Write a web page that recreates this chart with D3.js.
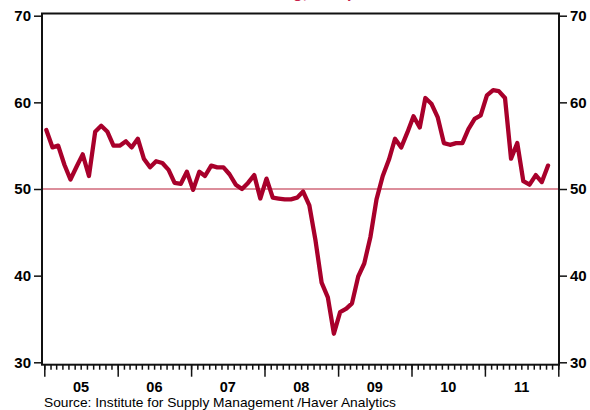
<!DOCTYPE html>
<html>
<head>
<meta charset="utf-8">
<script src="https://cdn.jsdelivr.net/npm/d3@7"></script>
<style>
  body { margin: 0; background: #fff; }
  svg { display: block; }
</style>
</head>
<body>
<svg id="chart"></svg>
<script>
const w = 590;
const h = 410;

// ISM composite index, monthly, Jan 2005 .. Nov 2011
const startYear = 2005;
const pmiValues = [
  56.8, 54.8, 55.0, 52.8, 51.1, 52.6, 54.0, 51.5, 56.6, 57.3, 56.6, 55.0,
  55.0, 55.5, 54.8, 55.8, 53.5, 52.5, 53.2, 53.0, 52.2, 50.7, 50.6, 52.0,
  49.9, 52.0, 51.5, 52.7, 52.5, 52.5, 51.7, 50.5, 50.0, 50.7, 51.6, 48.9,
  51.2, 49.0, 48.9, 48.8, 48.8, 49.0, 49.7, 48.1, 44.0, 39.2, 37.5, 33.3,
  35.8, 36.2, 36.8, 39.9, 41.4, 44.5, 48.8, 51.5, 53.4, 55.8, 54.8, 56.5,
  58.4, 57.1, 60.5, 59.8, 58.3, 55.3, 55.1, 55.3, 55.3, 56.9, 58.1, 58.5,
  60.8, 61.4, 61.3, 60.5, 53.5, 55.3, 50.9, 50.5, 51.6, 50.8, 52.7
];
const yTicks = [30, 40, 50, 60, 70];
const yearLabels = ["05", "06", "07", "08", "09", "10", "11"];
const refLevel = 50;
const titleText = "ISM Manufacturing, Composite Index";
const sourceText = "Source:  Institute for Supply Management /Haver Analytics";

const data = pmiValues.map((v, i) => ({
  date: new Date(startYear, i, 11),
  value: v
}));

const svg = d3.select("#chart")
  .attr("width", w)
  .attr("height", h)
  .attr("viewBox", [0, 0, w, h]);

const frame = { left: 42, right: 559, top: 13.5, bottom: 364.7 };

const x = d3.scaleTime()
  .domain([new Date(2005, 0, 1), new Date(2012, 0, 1)])
  .range([44.3, 558.3]);

const y = d3.scaleLinear()
  .domain([30, 70])
  .range([362.3, 15.7]);

const lineColor = "#a8002b";
const fontFam = "'Liberation Sans', Arial, sans-serif";

// title, cut off at the top edge (only descenders show in the original)
svg.append("text")
  .attr("x", 300)
  .attr("y", -2.5)
  .attr("text-anchor", "middle")
  .attr("font-family", fontFam)
  .attr("font-weight", "bold")
  .attr("font-size", 16)
  .attr("fill", "#c8204a")
  .text(titleText);

svg.append("defs").append("clipPath")
  .attr("id", "plot-clip")
  .append("rect")
  .attr("x", frame.left)
  .attr("y", frame.top)
  .attr("width", frame.right - frame.left)
  .attr("height", frame.bottom - frame.top);

// 50 reference line
svg.append("line")
  .attr("x1", frame.left)
  .attr("x2", frame.right)
  .attr("y1", y(refLevel))
  .attr("y2", y(refLevel))
  .attr("stroke", "#d0687a")
  .attr("stroke-width", 1.4);

const line = d3.line()
  .x(d => x(d.date))
  .y(d => y(d.value));

svg.append("path")
  .datum(data)
  .attr("clip-path", "url(#plot-clip)")
  .attr("d", line)
  .attr("fill", "none")
  .attr("stroke", lineColor)
  .attr("stroke-width", 4.3)
  .attr("stroke-linejoin", "round")
  .attr("stroke-linecap", "round");

// frame
svg.append("rect")
  .attr("x", frame.left)
  .attr("y", frame.top)
  .attr("width", frame.right - frame.left)
  .attr("height", frame.bottom - frame.top)
  .attr("fill", "none")
  .attr("stroke", "#111")
  .attr("stroke-width", 2);

function styleAxis(g) {
  g.select(".domain").remove();
  g.selectAll("line").attr("stroke", "#111").attr("stroke-width", 1.5);
  g.selectAll("text")
    .attr("font-family", fontFam)
    .attr("font-weight", "bold")
    .attr("font-size", 15)
    .attr("fill", "#000");
}

svg.append("g")
  .attr("transform", `translate(${frame.left},0)`)
  .call(d3.axisLeft(y).tickValues(yTicks).tickSize(8).tickPadding(3))
  .call(styleAxis);

svg.append("g")
  .attr("transform", `translate(${frame.right},0)`)
  .call(d3.axisRight(y).tickValues(yTicks).tickSize(8).tickPadding(3))
  .call(styleAxis);

// monthly minor ticks and yearly major ticks on the bottom
const months = d3.timeMonth.range(new Date(2005, 0, 1), new Date(2012, 0, 2));
svg.append("g")
  .attr("transform", `translate(0,${frame.bottom})`)
  .call(d3.axisBottom(x).tickValues(months).tickSize(5).tickFormat(""))
  .call(styleAxis);

const years = d3.timeYear.range(new Date(2005, 0, 1), new Date(2012, 0, 2));
svg.append("g")
  .attr("transform", `translate(0,${frame.bottom})`)
  .call(d3.axisBottom(x).tickValues(years).tickSize(12).tickFormat(""))
  .call(styleAxis);

// year labels centred between year ticks
svg.append("g")
  .selectAll("text")
  .data(yearLabels)
  .enter()
  .append("text")
  .attr("x", (d, i) => (x(new Date(startYear + i, 0, 1)) + x(new Date(startYear + i + 1, 0, 1))) / 2)
  .attr("y", 392)
  .attr("text-anchor", "middle")
  .attr("font-family", fontFam)
  .attr("font-weight", "bold")
  .attr("font-size", 14.5)
  .text(d => d);

svg.append("text")
  .attr("x", 44)
  .attr("y", 406.5)
  .attr("font-family", fontFam)
  .attr("font-size", 13.5)
  .attr("textLength", 352)
  .attr("lengthAdjust", "spacingAndGlyphs")
  .attr("fill", "#000")
  .text(sourceText);
</script>
</body>
</html>
